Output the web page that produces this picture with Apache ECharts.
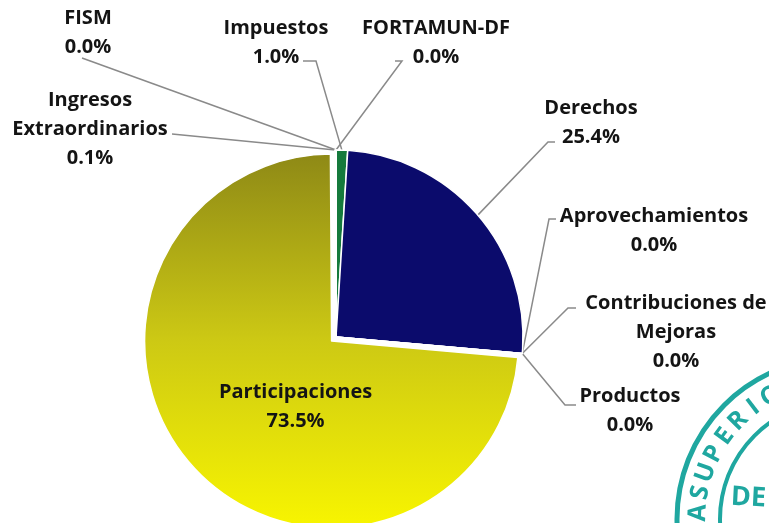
<!DOCTYPE html>
<html>
<head>
<meta charset="utf-8">
<script src="https://cdn.jsdelivr.net/npm/echarts@6/dist/echarts.min.js"></script>
<style>
  html, body { margin: 0; padding: 0; background: #fff; }
  #main { width: 769px; height: 523px; }
</style>
</head>
<body>
<div id="main"></div>
<script>
// datos (porcentajes)
var categorias = ['Impuestos', 'Derechos', 'Aprovechamientos', 'Contribuciones de\nMejoras',
    'Productos', 'Participaciones', 'Ingresos\nExtraordinarios', 'FISM', 'FORTAMUN-DF'];
var valores = [1.0, 25.4, 0.0, 0.0, 0.0, 73.5, 0.1, 0.0, 0.0];
var colores = ['#157a3c', '#0b0b6c', '#0b0b6c', '#0b0b6c', '#0b0b6c', null, '#9a9418', '#9a9418', '#9a9418'];

// donde va cada etiqueta: centro del texto y punto donde termina la linea guia
// (Participaciones va dentro del sector, sin posicion fija)
var etiquetas = {
    'Impuestos':                   { x: 276, y: 43,  end: [303, 61], elbow: [316, 61] },
    'Derechos':                    { x: 591, y: 123, end: [555, 142], elbow: [548, 142] },
    'Aprovechamientos':            { x: 654, y: 231, end: [556, 219], elbow: [549, 219] },
    'Contribuciones de\nMejoras':  { x: 676, y: 332, end: [576, 308], elbow: [568, 308] },
    'Productos':                   { x: 630, y: 411, end: [576, 405], elbow: [565, 405] },
    'Ingresos\nExtraordinarios':   { x: 90,  y: 129, end: [172, 134], elbow: [172, 134] },
    'FISM':                        { x: 88,  y: 33,  end: [82, 58],  elbow: [82, 58] },
    'FORTAMUN-DF':                 { x: 436, y: 43,  end: [395, 61], elbow: [402, 61] }
};

var chart = echarts.init(document.getElementById('main'));

var amarillo = new echarts.graphic.LinearGradient(0, 0, 0, 1, [
    { offset: 0, color: '#8e8916' },
    { offset: 0.5, color: '#cdc914' },
    { offset: 1, color: '#f8f500' }
]);

var datos = categorias.map(function (c, i) {
    var item = { name: c, value: valores[i], itemStyle: { color: colores[i] || amarillo } };
    if (c === 'Participaciones') {
        item.selected = true;
        // dentro del sector, corrido un poco a la derecha
        item.label = { position: 'inside', padding: [0, 0, 10, 70] };
        item.labelLine = { show: false };
    }
    return item;
});

// sello (decoracion del escaneo)
var selloColor = '#1fa7a0';
var selloCx = 838, selloCy = 519;
var letras = 'ASUPERIO';
var selloGraficos = [
    { type: 'circle', shape: { cx: selloCx, cy: selloCy, r: 161 }, style: { fill: 'none', stroke: selloColor, lineWidth: 5 } },
    { type: 'circle', shape: { cx: selloCx, cy: selloCy, r: 118 }, style: { fill: 'none', stroke: selloColor, lineWidth: 4 } },
    { type: 'text', x: 731, y: 497, rotation: -0.05, style: { text: 'DE', fill: selloColor, font: 'bold 27px "Open Sans"', verticalAlign: 'middle' } }
];
for (var k = 0; k < letras.length; k++) {
    var a = 182.5 + k * 8.4;
    var ang = a * Math.PI / 180;
    selloGraficos.push({
        type: 'text',
        x: selloCx + 140 * Math.cos(ang),
        y: selloCy + 140 * Math.sin(ang),
        rotation: (270 - a) * Math.PI / 180,
        style: { text: letras[k], fill: selloColor, font: 'bold 25px "Open Sans"', align: 'center', verticalAlign: 'middle' }
    });
}

var option = {
    backgroundColor: '#fff',
    animation: false,
    graphic: selloGraficos,
    series: [{
        type: 'pie',
        center: [336, 337],
        radius: 187,
        startAngle: 90,
        clockwise: true,
        avoidLabelOverlap: false,
        selectedMode: 'single',
        selectedOffset: 6,
        itemStyle: { borderColor: '#fff', borderWidth: 1.5 },
        label: {
            show: true,
            color: '#141414',
            fontFamily: 'Open Sans',
            fontWeight: 'bold',
            fontSize: 20,
            lineHeight: 29,
            align: 'center',
            formatter: function (p) {
                return p.name + '\n' + p.value.toFixed(1) + '%';
            }
        },
        labelLine: {
            show: true,
            lineStyle: { color: '#8a8a8a', width: 1.5 }
        },
        labelLayout: function (p) {
            var e = etiquetas[categorias[p.dataIndex]];
            if (!e) return {};
            var res = { x: e.x, y: e.y, align: 'center', verticalAlign: 'middle' };
            if (e.end && p.labelLinePoints) {
                res.labelLinePoints = [p.labelLinePoints[0], e.elbow, e.end];
            }
            return res;
        },
        data: datos
    }]
};

chart.setOption(option);
</script>
</body>
</html>
